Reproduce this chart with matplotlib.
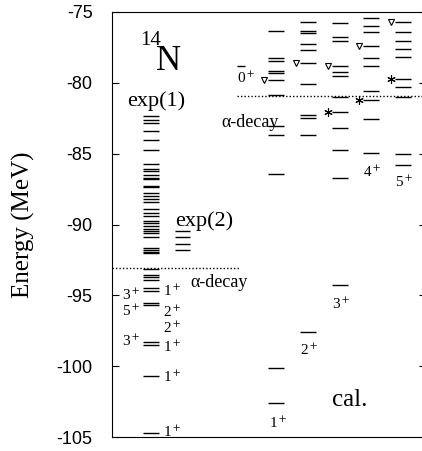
import matplotlib
matplotlib.use("Agg")
import matplotlib.pyplot as plt

plt.rcParams['axes.unicode_minus'] = False
plt.rcParams['mathtext.fontset'] = 'stix'
plt.rcParams['font.family'] = ['Liberation Serif', 'DejaVu Serif']

# experimental levels (MeV)
exp1_E = [-82.34, -82.59, -82.81, -83.40, -84.03, -84.74, -85.73, -86.10, -86.22,
          -86.50, -86.69, -86.79, -87.28, -87.37, -87.75, -87.99, -88.22, -88.41,
          -88.90, -89.21, -89.42, -89.73, -89.91, -90.10, -90.31, -90.43, -90.58,
          -90.86, -91.68, -91.80, -91.92, -92.03, -93.16, -93.56, -93.72, -93.91,
          -94.50, -94.67, -95.52, -95.68, -98.31, -98.50, -100.69, -104.73]
exp2_E = [-90.46, -90.91, -91.37, -91.80]

# calculated levels per J^pi
cal_0p = [-78.81]
cal_1p = [-76.31, -78.28, -78.46, -79.16, -79.30, -79.80, -80.86, -83.05, -83.68,
          -86.45, -100.10, -102.61]
cal_2p = [-75.71, -76.34, -76.50, -77.29, -77.68, -78.62, -80.10, -82.30, -82.50,
          -83.68, -97.60]
cal_3p = [-75.76, -76.79, -77.07, -78.78, -79.21, -79.52, -80.98, -82.08, -83.17,
          -84.74, -86.69, -94.27]
cal_4p = [-75.44, -75.99, -76.43, -77.38, -78.27, -78.79, -80.55, -81.21, -82.57,
          -84.97]
cal_5p = [-75.68, -76.43, -77.03, -77.61, -78.20, -79.75, -80.27, -80.98, -85.02,
          -85.80]
# marked levels (triangle / asterisk) in columns 1+..5+
tri_E = [-79.80, -78.62, -78.78, -77.38, -75.68]
star_E = [None, None, -82.08, -81.21, -79.75]

alpha_exp = -93.07
alpha_cal = -80.93

fig = plt.figure(figsize=(4.22, 4.51), dpi=100)
ax = fig.add_axes([112/422, 1-437/451, 314/422, 425/451])
ax.set_xlim(112, 426)
ax.set_ylim(-105, -75)

lw = 1.0
ax.hlines(exp1_E, 143, 159, color='k', lw=lw)
ax.hlines(exp2_E, 175, 190, color='k', lw=lw)

cols = [(cal_1p, 268), (cal_2p, 300), (cal_3p, 332), (cal_4p, 363), (cal_5p, 395)]
for i, (lev, x0) in enumerate(cols):
    ax.hlines(lev, x0, x0 + 16, color='k', lw=lw)
    ax.plot(x0 - 4, tri_E[i], marker='v', ms=4, mfc='white', mec='k', mew=0.8)
    if star_E[i] is not None:
        ax.plot(x0 - 4, star_E[i], marker=(6, 2, 0), ms=6, color='k', mew=0.8)
ax.hlines(cal_0p, 237, 245, color='k', lw=lw)

ax.hlines(alpha_exp, 112, 240, color='k', lw=1, linestyles=(0, (1, 1.5)))
ax.hlines(alpha_cal, 237, 426, color='k', lw=1, linestyles=(0, (1, 1.5)))

# labels
ax.text(140, -77.33, '14', fontsize=15)
ax.text(156, -79.09, 'N', fontsize=25)
ax.text(127, -81.63, 'exp(1)', fontsize=16)
ax.text(175, -90.10, 'exp(2)', fontsize=16)
ax.text(190, -94.41, 'α-decay', fontsize=13)
ax.text(221, -83.12, 'α-decay', fontsize=13)
ax.text(332, -102.80, 'cal.', fontsize=18)

sp = 11
for x, e, t in [(163, -94.69, '1'), (122, -95.00, '3'), (122, -96.15, '5'),
                (163, -96.20, '2'), (163, -97.30, '2'), (122, -98.22, '3'),
                (163, -98.64, '1'), (163, -100.76, '1'), (163, -104.64, '1')]:
    ax.text(x, e, t + r'$^+$', fontsize=sp, va='center')

for x, e, t in [(237, -79.7, '0'), (269, -104.0, '1'), (300, -98.9, '2'),
                (332, -95.6, '3'), (363, -86.3, '4'), (395, -87.0, '5')]:
    ax.text(x, e, t + r'$^+$', fontsize=sp, va='center')

ax.set_xticks([])
ax.set_yticks([-105, -100, -95, -90, -85, -80, -75])
ax.tick_params(axis='y', direction='in', length=5, right=True, pad=14,
               labelsize=13, labelfontfamily='Liberation Sans')
ax.set_ylabel('Energy (MeV)', fontsize=18)
ax.yaxis.set_label_coords(-0.245, 0.5)

plt.savefig('out.png', dpi=100)
